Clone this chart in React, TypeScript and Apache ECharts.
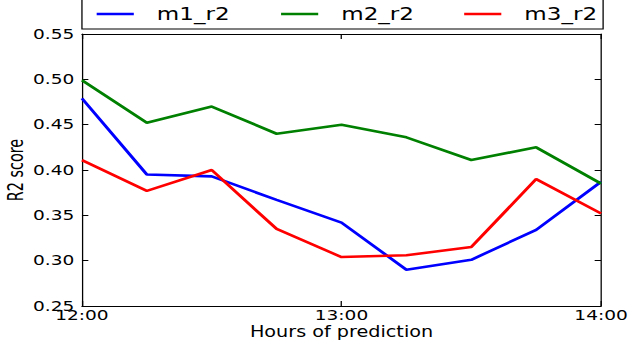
import React, { useEffect, useRef } from "react";
import * as echarts from "echarts";

const categories = ["12:00", "12:15", "12:30", "12:45", "13:00", "13:15", "13:30", "13:45", "14:00"];
const m1 = [0.479, 0.395, 0.393, 0.367, 0.342, 0.29, 0.301, 0.334, 0.387];
const m2 = [0.499, 0.452, 0.47, 0.44, 0.45, 0.436, 0.411, 0.425, 0.385];
const m3 = [0.411, 0.377, 0.4, 0.335, 0.304, 0.306, 0.315, 0.39, 0.352];
const seriesNames = ["m1_r2", "m2_r2", "m3_r2"];
const seriesColors = ["#0000ff", "#008000", "#ff0000"];
const yMin = 0.25;
const yMax = 0.55;
const yStep = 0.05;

const W = 492;
const H = 345;
const SX = 630 / W;
const FONT = "DejaVu Sans";

export default function App() {
  const ref = useRef<HTMLDivElement>(null);
  useEffect(() => {
    if (!ref.current) return;
    const chart = echarts.init(ref.current, undefined, { renderer: "svg" });
    const values = [m1, m2, m3];
    const legendLeft = [75.5, 219.5, 362.5];
    const axisLine = { show: true, lineStyle: { color: "#000", width: 1 } };
    chart.setOption({
      animation: false,
      backgroundColor: "#fff",
      textStyle: { fontFamily: FONT },
      grid: { left: 64, right: 22.6, top: 34, bottom: 39, outerBoundsMode: "none", containLabel: false },
      legend: seriesNames.map((n, i) => ({
        data: [{ name: n }],
        left: legendLeft[i],
        top: 4,
        padding: 0,
        selectedMode: false,
        icon: "rect",
        itemWidth: 29,
        itemHeight: 2.6,
        textStyle: { fontSize: 18, color: "#000", fontFamily: FONT, padding: [0, 0, 0, 13], lineHeight: 20 },
      })),
      graphic: [
        {
          type: "rect",
          shape: { x: 64, y: -2, width: 407, height: 31 },
          style: { fill: "none", stroke: "#000", lineWidth: 1 },
          z: 10,
        },
      ],
      xAxis: [
        {
          type: "category",
          data: categories,
          boundaryGap: false,
          position: "bottom",
          axisLine,
          axisTick: { show: true, inside: true, length: 5, interval: 3, lineStyle: { color: "#000" } },
          axisLabel: { interval: 3, fontSize: 14.5, lineHeight: 15, color: "#000", margin: 2, fontFamily: FONT },
          splitLine: { show: false },
          name: "Hours of prediction",
          nameLocation: "middle",
          nameGap: 18,
          nameMoveOverlap: false,
          nameTextStyle: { fontSize: 15, lineHeight: 15, color: "#000", fontFamily: FONT },
        },
        {
          type: "category",
          data: categories,
          boundaryGap: false,
          position: "top",
          axisLine,
          axisTick: { show: true, inside: true, length: 5, interval: 3, lineStyle: { color: "#000" } },
          axisLabel: { show: false },
          splitLine: { show: false },
        },
      ],
      yAxis: [
        {
          type: "value",
          min: yMin,
          max: yMax,
          interval: yStep,
          position: "left",
          axisLine,
          axisTick: { show: true, inside: true, length: 5, lineStyle: { color: "#000" } },
          axisLabel: {
            fontSize: 14.5,
            color: "#000",
            margin: 6,
            fontFamily: FONT,
            formatter: (v: number) => v.toFixed(2),
          },
          splitLine: { show: false },
          name: "R2 score",
          nameLocation: "middle",
          nameRotate: 90,
          nameGap: 44,
          nameMoveOverlap: false,
          nameTextStyle: { fontSize: 16, color: "#000", fontFamily: "DejaVu Sans Condensed, DejaVu Sans" },
        },
        {
          type: "value",
          min: yMin,
          max: yMax,
          interval: yStep,
          position: "right",
          axisLine,
          axisTick: { show: true, inside: true, length: 5, lineStyle: { color: "#000" } },
          axisLabel: { show: false },
          splitLine: { show: false },
        },
      ],
      series: seriesNames.map((n, i) => ({
        name: n,
        type: "line",
        data: values[i],
        xAxisIndex: 0,
        yAxisIndex: 0,
        showSymbol: false,
        symbol: "none",
        color: seriesColors[i],
        lineStyle: { color: seriesColors[i], width: 2.6 },
      })),
    });
    return () => chart.dispose();
  }, []);
  return (
    <div
      ref={ref}
      style={{
        position: "absolute",
        left: 0,
        top: 0,
        width: W,
        height: H,
        transform: `scaleX(${SX})`,
        transformOrigin: "0 0",
      }}
    />
  );
}
